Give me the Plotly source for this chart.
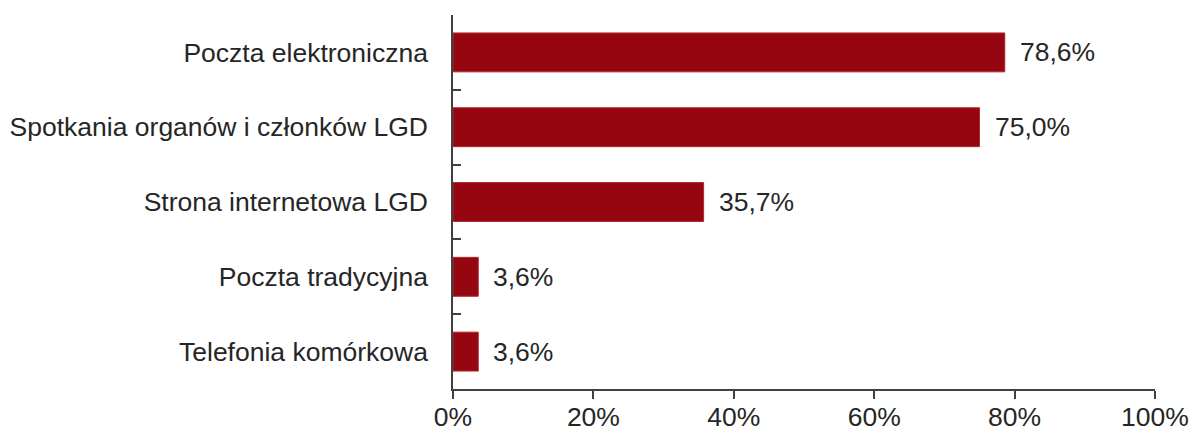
import plotly.graph_objects as go

categories = ["Poczta elektroniczna", "Spotkania organów i członków LGD",
              "Strona internetowa LGD", "Poczta tradycyjna", "Telefonia komórkowa"]
values = [78.6, 75.0, 35.7, 3.6, 3.6]
labels = ["78,6%", "75,0%", "35,7%", "3,6%", "3,6%"]
tick_vals = [0, 20, 40, 60, 80, 100]
tick_text = ["0%", "20%", "40%", "60%", "80%", "100%"]

font_family = "Liberation Sans, Arial, sans-serif"
text_color = "#262626"
axis_color = "#404040"
fs = 26.5

fig = go.Figure(go.Bar(
    x=values, y=categories, orientation="h",
    marker=dict(color="#960610", line=dict(color="#B02830", width=1)),
    width=0.52, hoverinfo="skip",
))

for c, v, t in zip(categories, values, labels):
    fig.add_annotation(x=v, y=c, text=t, showarrow=False, xanchor="left",
                       xshift=13, font=dict(family=font_family, size=fs, color=text_color))

fig.update_layout(
    width=1189, height=431,
    margin=dict(l=453, r=34, t=15, b=42),
    paper_bgcolor="white", plot_bgcolor="white",
    showlegend=False,
    font=dict(family=font_family, size=fs, color=text_color),
    xaxis=dict(range=[0, 100], tickvals=tick_vals, ticktext=tick_text, automargin=False,
               showgrid=False, zeroline=False, showline=True, linecolor=axis_color,
               linewidth=1.5, ticks="outside", ticklen=8, tickcolor=axis_color, tickwidth=1.5,
               ticklabelstandoff=-5),
    yaxis=dict(autorange="reversed", showgrid=False, zeroline=False, showline=True,
               automargin=False,
               linecolor=axis_color, linewidth=1.5, ticks="inside", ticklen=8,
               tickcolor=axis_color, tickwidth=1.5, tickson="boundaries",
               ticklabelstandoff=18),
)

fig.write_html("out.html", config={"displayModeBar": False},
               post_script="document.body.style.margin='0';document.body.style.overflow='hidden';")
